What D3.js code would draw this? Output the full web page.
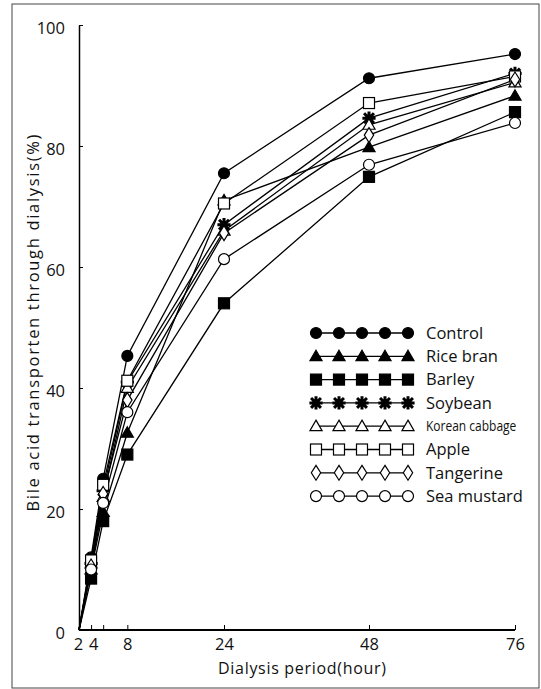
<!DOCTYPE html>
<html>
<head>
<meta charset="utf-8">
<script src="https://cdn.jsdelivr.net/npm/d3@7"></script>
<style>
  body { margin: 0; background: #fff; }
  text { font-family: "Open Sans", sans-serif; fill: #111; }
</style>
</head>
<body>
<svg width="541" height="689"></svg>
<script>
const width = 541;
const height = 689;

const hours = [0, 2, 4, 8, 24, 48, 76];
const xTicks = [2, 4, 8, 24, 48, 76];
const yTicks = [0, 20, 40, 60, 80, 100];

const names = ["Control", "Rice bran", "Barley", "Soybean", "Korean cabbage", "Apple", "Tangerine", "Sea mustard"];
const control = [0, 12, 25, 45.3, 75.5, 91.2, 95.2];
const riceBran = [0, 10, 19.5, 32.6, 71, 79.8, 88.3];
const barley = [0, 8.5, 18, 29, 54, 74.9, 85.6];
const soybean = [0, 11, 23, 41, 67, 84.6, 92];
const koreanCabbage = [0, 11, 22, 40, 66, 83.5, 90.5];
const apple = [0, 11.5, 24, 41.2, 70.5, 87.1, 91.5];
const tangerine = [0, 10.5, 22.5, 38, 65.6, 81.8, 91];
const seaMustard = [0, 10, 21, 36, 61.3, 76.9, 83.8];

const allValues = [control, riceBran, barley, soybean, koreanCabbage, apple, tangerine, seaMustard];
const markers = ["circle", "triangle", "square", "star", "triangle", "square", "diamond", "circle"];
const filled = [true, true, true, true, false, false, false, false];

const series = names.map((name, i) => ({
    name,
    marker: markers[i],
    filled: filled[i],
    points: hours.map((h, j) => ({ h, v: allValues[i][j] }))
}));

// the hour axis is stretched after 48 h in the original
const x = d3.scaleLinear()
    .domain([0, 48, 76])
    .range([79, 369, 515]);

const y = d3.scaleLinear()
    .domain([0, 100])
    .range([630, 25]);

const svg = d3.select("svg")
    .attr("viewBox", [0, 0, width, height]);

// scanned frame
svg.append("rect")
    .attr("x", 12).attr("y", 4)
    .attr("width", 527).attr("height", 684)
    .attr("fill", "none")
    .attr("stroke", "#444")
    .attr("stroke-width", 1);

function drawMarker(g, type, isFilled, r) {
    const fill = isFilled ? "#000" : "#fff";
    if (type === "circle") {
        g.append("circle").attr("r", r).attr("fill", fill).attr("stroke", "#000").attr("stroke-width", 1.2);
    } else if (type === "square") {
        g.append("rect").attr("x", -r).attr("y", -r).attr("width", 2 * r).attr("height", 2 * r)
            .attr("fill", fill).attr("stroke", "#000").attr("stroke-width", 1.2);
    } else if (type === "triangle") {
        g.append("path").attr("d", `M0,${-r * 1.1}L${r * 1.1},${r * 0.8}L${-r * 1.1},${r * 0.8}Z`)
            .attr("fill", fill).attr("stroke", "#000").attr("stroke-width", 1.2);
    } else if (type === "diamond") {
        g.append("path").attr("d", `M0,${-r * 1.35}L${r * 0.85},0L0,${r * 1.35}L${-r * 0.85},0Z`)
            .attr("fill", fill).attr("stroke", "#000").attr("stroke-width", 1.2);
    } else if (type === "star") {
        const s = r * 1.2;
        g.append("path")
            .attr("d", `M0,${-s}L0,${s}M${-s},0L${s},0M${-s * 0.75},${-s * 0.75}L${s * 0.75},${s * 0.75}M${-s * 0.75},${s * 0.75}L${s * 0.75},${-s * 0.75}`)
            .attr("stroke", "#000").attr("stroke-width", 3).attr("fill", "none");
        g.append("circle").attr("r", r * 0.6).attr("fill", "#000");
    }
}

const line = d3.line()
    .x(d => x(d.h))
    .y(d => y(d.v));

svg.append("g")
    .selectAll("path")
    .data(series)
    .join("path")
    .attr("d", d => line(d.points))
    .attr("fill", "none")
    .attr("stroke", "#000")
    .attr("stroke-width", 1.3);

series.forEach(s => {
    s.points.filter(p => p.h > 0).forEach(p => {
        const g = svg.append("g").attr("transform", `translate(${x(p.h)},${y(p.v)})`);
        drawMarker(g, s.marker, s.filled, 5.5);
    });
});

// axes
const xAxis = g => g
    .attr("transform", `translate(0,${y(0)})`)
    .call(d3.axisBottom(x).tickValues(xTicks).tickSizeInner(-5).tickSizeOuter(0).tickPadding(8))
    .call(g => g.select(".domain").attr("stroke-width", 2).attr("d", `M${x(0)},0H${x(76)}`))
    .call(g => g.selectAll(".tick text")
        .attr("font-size", 16.5)
        .attr("font-family", "Open Sans, sans-serif")
        .attr("dx", d => d === 2 ? -13 : d === 4 ? -10 : 0));

const yAxis = g => g
    .attr("transform", `translate(${x(0)},0)`)
    .call(d3.axisLeft(y).tickValues(yTicks).tickSizeInner(-4).tickSizeOuter(0).tickPadding(14))
    .call(g => g.select(".domain").attr("stroke-width", 1.5))
    .call(g => g.selectAll(".tick text")
        .attr("font-size", 16.5)
        .attr("font-family", "Open Sans, sans-serif")
        .attr("dy", "0.5em"));

svg.append("g").call(xAxis);
svg.append("g").call(yAxis);

// X-axis label
svg.append("text")
    .attr("x", 302)
    .attr("y", 674)
    .attr("text-anchor", "middle")
    .attr("font-size", 16)
    .attr("textLength", 168)
    .attr("lengthAdjust", "spacing")
    .text("Dialysis period(hour)");

// Y-axis label
svg.append("text")
    .attr("transform", "translate(39,323) rotate(-90)")
    .attr("text-anchor", "middle")
    .attr("font-size", 16.5)
    .attr("textLength", 377)
    .attr("lengthAdjust", "spacing")
    .text("Bile acid transporten through dialysis(%)");

// legend
const legend = svg.append("g");
series.forEach((s, i) => {
    const row = legend.append("g").attr("transform", `translate(316,${333 + i * 23.3})`);
    row.append("line").attr("x1", 0).attr("x2", 92).attr("stroke", "#000").attr("stroke-width", 1.3);
    for (let k = 0; k < 5; k++) {
        const g = row.append("g").attr("transform", `translate(${k * 23},0)`);
        drawMarker(g, s.marker, s.filled, 5.5);
    }
    const t = row.append("text")
        .attr("x", 110)
        .attr("dy", "0.35em")
        .attr("font-size", 16.5)
        .text(s.name);
    // condensed label in the original
    if (s.name === "Korean cabbage") {
        t.attr("x", 0)
            .attr("font-size", 15)
            .attr("transform", "translate(110,0) scale(0.8,1)");
    }
});
</script>
</body>
</html>
